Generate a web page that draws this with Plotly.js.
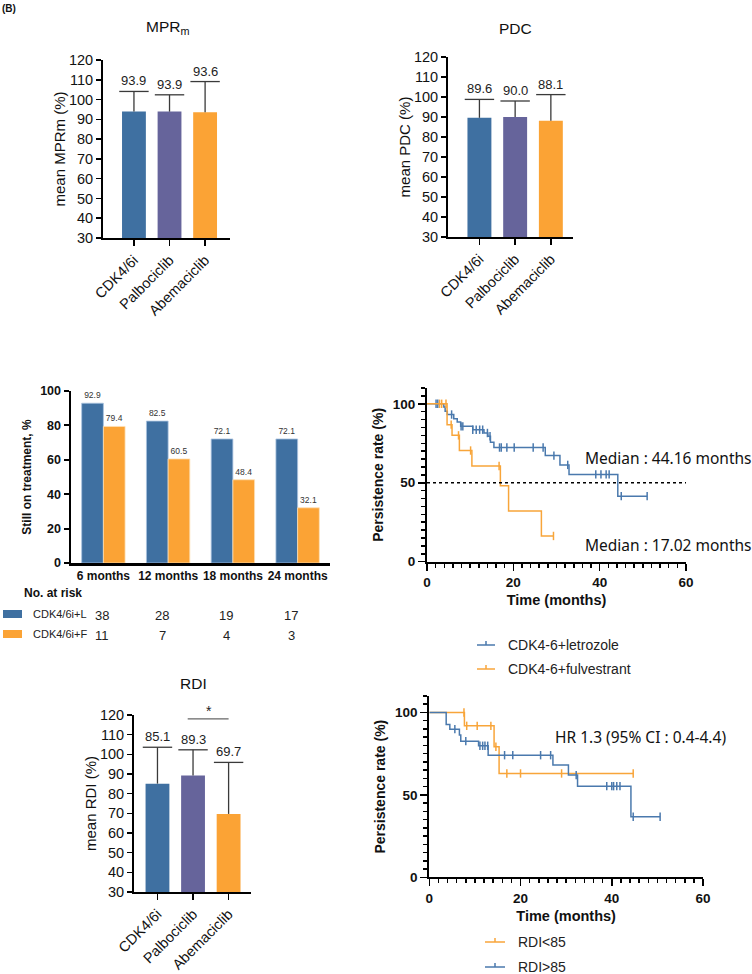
<!DOCTYPE html>
<html><head><meta charset="utf-8">
<script src="https://cdn.plot.ly/plotly-3.0.1.min.js"></script>
<style>html,body{margin:0;padding:0;background:#fff;}#chart{width:752px;height:974px;}</style>
</head><body><div id="chart"></div>
<script>
// ---------- data ----------
const drugs = ['CDK4/6i', 'Palbociclib', 'Abemaciclib'];
const mprMean = [93.9, 93.9, 93.6];
const mprSD = [10.2, 8.5, 15.5];
const pdcMean = [89.6, 90.0, 88.1];
const pdcSD = [9.2, 8.0, 13.1];
const rdiMean = [85.1, 89.3, 69.7];
const rdiSD = [18.5, 13.0, 26.2];

const timepoints = ['6 months', '12 months', '18 months', '24 months'];
const stillL = [92.9, 82.5, 72.1, 72.1];
const stillF = [79.4, 60.5, 48.4, 32.1];
const riskL = [38, 28, 19, 17];
const riskF = [11, 7, 4, 3];

// Kaplan-Meier: CDK4-6+letrozole vs CDK4-6+fulvestrant
const letT = [0, 3.9, 4.2, 4.7, 6.2, 7.0, 7.8, 10.6, 13.2, 14.1, 14.7, 15.5, 27.4, 30.8, 32.9, 44.2, 51.0];
const letS = [100, 97.9, 95.3, 93.2, 90.6, 88.5, 85.7, 83.6, 81.5, 79.4, 75.7, 72.3, 67.2, 61.3, 55.3, 41.5, 41.5];
const letCens = [2.1, 2.5, 5.7, 7.9, 8.3, 10.6, 11.4, 12.2, 12.9, 14.0, 14.6, 16.8, 17.2, 18.5, 20.2, 24.6, 26.9, 29.4, 32.6, 39.1, 40.3, 41.5, 42.2, 45.0, 51.0];
const fulT = [0, 4.65, 5.8, 7.5, 10.4, 17.0, 18.9, 26.5, 29.3];
const fulS = [100, 86.8, 80.0, 70.4, 60.6, 48.1, 32.1, 16.3, 16.3];
const fulCens = [2.9, 3.4, 4.4, 5.6, 7.3, 10.1, 16.7, 29.3];

// Kaplan-Meier: RDI<85 vs RDI>85
const lowT = [0, 7.7, 14.2, 15.3, 44.7];
const lowS = [100, 91.9, 79.2, 63.0, 63.0];
const lowCens = [7.6, 8.2, 10.5, 13.5, 14.6, 17.0, 20.0, 29.0, 44.7];
const highT = [0, 3.7, 4.5, 6.6, 6.9, 10.8, 12.9, 27.1, 30.5, 32.5, 44.2, 50.6];
const highS = [100, 92.7, 89.9, 86.3, 82.6, 79.8, 74.1, 68.1, 62.0, 55.3, 36.7, 36.7];
const highCens = [5.6, 8.0, 11.1, 11.7, 12.2, 12.8, 16.5, 18.3, 24.4, 26.6, 32.2, 38.9, 40.0, 40.4, 41.1, 41.8, 44.7, 50.6];

// ---------- styling ----------
const BLUE = '#3f70a1', PURPLE = '#66649b', ORANGE = '#fba335';
const KMBLUE = '#4a79ad', KMORANGE = '#f8a53a';
const FONT = 'Liberation Sans, Arial, sans-serif';
const W = 752, H = 974;
const px = p => p / W;
const py = p => 1 - p / H;

const traces = [];
const annotations = [];
const shapes = [];

function note(x, y, text, font, xanchor) {
  annotations.push({xref: 'paper', yref: 'paper', x: px(x), y: py(y), text: text, showarrow: false,
    xanchor: xanchor || 'center', yanchor: 'middle', font: font});
}

function barPanel(means, sds, ax) {
  traces.push({type: 'bar', x: drugs, y: means, xaxis: 'x' + ax, yaxis: 'y' + ax,
    marker: {color: [BLUE, PURPLE, ORANGE], line: {width: 0}}, showlegend: false, hoverinfo: 'skip'});
  const ex = [], ey = [];
  means.forEach((m, i) => { ex.push(drugs[i], drugs[i], null); ey.push(m, m + sds[i], null); });
  traces.push({type: 'scatter', mode: 'lines', x: ex, y: ey, xaxis: 'x' + ax, yaxis: 'y' + ax,
    line: {color: '#3a3a3a', width: 1.3}, showlegend: false, hoverinfo: 'skip'});
  traces.push({type: 'scatter', mode: 'markers', x: drugs, y: means.map((m, i) => m + sds[i]),
    xaxis: 'x' + ax, yaxis: 'y' + ax, cliponaxis: false,
    marker: {symbol: 'line-ew', size: 21, line: {color: '#3a3a3a', width: 1.3}},
    showlegend: false, hoverinfo: 'skip'});
  means.forEach((m, i) => annotations.push({xref: 'x' + ax, yref: 'y' + ax, x: drugs[i], y: m + sds[i],
    text: m.toFixed(1), showarrow: false, xanchor: 'center', yanchor: 'bottom', yshift: 1, font: {size: 13, color: '#222'}}));
}
barPanel(mprMean, mprSD, '');
barPanel(pdcMean, pdcSD, '2');
barPanel(rdiMean, rdiSD, '3');

// grouped bars
traces.push({type: 'bar', x: timepoints, y: stillL, name: 'CDK4/6i+L', xaxis: 'x4', yaxis: 'y4',
  marker: {color: BLUE, line: {color: '#a9c3df', width: 0.8}}, text: stillL.map(v => v.toFixed(1)),
  textposition: 'outside', textfont: {size: 8.5, color: '#333'}, cliponaxis: false, constraintext: 'none',
  showlegend: false, hoverinfo: 'skip'});
traces.push({type: 'bar', x: timepoints, y: stillF, name: 'CDK4/6i+F', xaxis: 'x4', yaxis: 'y4',
  marker: {color: ORANGE, line: {color: '#fde0b5', width: 0.8}}, text: stillF.map(v => v.toFixed(1)),
  textposition: 'outside', textfont: {size: 8.5, color: '#333'}, cliponaxis: false, constraintext: 'none',
  showlegend: false, hoverinfo: 'skip'});

function stepVal(T, S, t) { let v = S[0]; for (let i = 0; i < T.length; i++) { if (T[i] <= t) v = S[i]; } return v; }
function kmCurve(T, S, cens, color, ax) {
  traces.push({type: 'scatter', mode: 'lines', x: T, y: S, xaxis: 'x' + ax, yaxis: 'y' + ax,
    line: {shape: 'hv', color: color, width: 1.5}, showlegend: false, hoverinfo: 'skip'});
  traces.push({type: 'scatter', mode: 'markers', x: cens, y: cens.map(c => stepVal(T, S, c)),
    xaxis: 'x' + ax, yaxis: 'y' + ax, cliponaxis: false,
    marker: {symbol: 'line-ns', size: 6, line: {color: color, width: 1.5}}, showlegend: false, hoverinfo: 'skip'});
}
kmCurve(letT, letS, letCens, KMBLUE, '5');
kmCurve(fulT, fulS, fulCens, KMORANGE, '5');
kmCurve(lowT, lowS, lowCens, KMORANGE, '6');
kmCurve(highT, highS, highCens, KMBLUE, '6');

// ---------- axes ----------
const baseLine = {showline: true, linecolor: '#000', linewidth: 2, showgrid: false, zeroline: false,
  ticks: 'outside', tickcolor: '#000', tickwidth: 1.5, fixedrange: true};
function barX(dom, anchor, range) {
  return Object.assign({}, baseLine, {domain: [px(dom[0]), px(dom[1])], anchor: anchor, type: 'category',
    range: range, ticklen: 6, tickangle: -45, tickfont: {size: 14.5, color: '#111'}});
}
function barY(dom, anchor, title) {
  return Object.assign({}, baseLine, {domain: [py(dom[1]), py(dom[0])], anchor: anchor, range: [30, 120],
    dtick: 10, tick0: 0, ticklen: 5, tickfont: {size: 14.5, color: '#111'},
    title: {text: title, font: {size: 15, color: '#111'}, standoff: 0}});
}
const kmFont = {size: 13.5, color: '#111', weight: 'bold'};
function kmX(dom, anchor) {
  return Object.assign({}, baseLine, {domain: [px(dom[0]), px(dom[1])], anchor: anchor, range: [0, 60],
    dtick: 20, tick0: 0, ticklen: 7, tickfont: kmFont,
    minor: {dtick: 2, tick0: 0, ticks: 'outside', ticklen: 4, tickwidth: 1.5, tickcolor: '#000'},
    title: {text: 'Time (months)', font: {size: 14.5, color: '#111', weight: 'bold'}, standoff: 6}});
}
function kmY(dom, anchor) {
  return Object.assign({}, baseLine, {domain: [py(dom[1]), py(dom[0])], anchor: anchor, range: [0, 110],
    dtick: 50, tick0: 0, ticklen: 7, tickfont: kmFont,
    minor: {dtick: 5, tick0: 0, ticks: 'outside', ticklen: 4, tickwidth: 1.5, tickcolor: '#000'},
    title: {text: 'Persistence rate (%)', font: {size: 14, color: '#111', weight: 'bold'}, standoff: 6}});
}

const layout = {
  width: W, height: H, margin: {l: 0, r: 0, t: 0, b: 0}, paper_bgcolor: '#fff', plot_bgcolor: 'rgba(0,0,0,0)',
  font: {family: FONT, color: '#111'}, barmode: 'group', bargap: 0.33, bargroupgap: 0, showlegend: false,
  xaxis: barX([103, 230], 'y', [-0.87, 2.7]),
  yaxis: barY([60, 238], 'x', 'mean MPRm (%)'),
  xaxis2: barX([448, 573], 'y2', [-0.88, 2.62]),
  yaxis2: barY([57, 237], 'x2', 'mean PDC (%)'),
  xaxis3: barX([134, 251], 'y3', [-0.66, 2.63]),
  yaxis3: barY([715, 892], 'x3', 'mean RDI (%)'),
  xaxis4: Object.assign({}, baseLine, {domain: [px(71), px(330)], anchor: 'y4', type: 'category', range: [-0.5, 3.5],
    ticks: '', tickangle: 0, linewidth: 2.5, tickfont: {size: 12, color: '#111', weight: 'bold'}}),
  yaxis4: Object.assign({}, baseLine, {domain: [py(563), py(391)], anchor: 'x4', range: [0, 100], dtick: 20,
    linewidth: 2.5, ticklen: 5, tickwidth: 2, tickfont: {size: 12.5, color: '#111', weight: 'bold'},
    title: {text: 'Still on treatment, %', font: {size: 12, color: '#111', weight: 'bold'}, standoff: 6}}),
  xaxis5: kmX([427, 686], 'y5'),
  yaxis5: kmY([388, 561.7], 'x5'),
  xaxis6: kmX([429.3, 703], 'y6'),
  yaxis6: kmY([696, 877.3], 'x6'),
  annotations: annotations,
  shapes: shapes
};

// titles
note(168, 28, 'MPR<sub>m</sub>', {size: 15.5, color: '#111'});
note(515, 29, 'PDC', {size: 15.5, color: '#111'});
note(193, 683, 'RDI', {size: 15.5, color: '#111'});
note(0, 8, '<b>(B)</b>', {size: 10, color: '#111'}, 'left');

// significance bracket in RDI panel
shapes.push({type: 'line', xref: 'x3', yref: 'y3', x0: 0.85, x1: 2.0, y0: 118, y1: 118, line: {color: '#666', width: 1.3}});
annotations.push({xref: 'x3', yref: 'y3', x: 1.45, y: 118, text: '*', showarrow: false, xanchor: 'center', yanchor: 'bottom', yshift: -2,
  font: {size: 14, color: '#222'}});

// risk table
note(22, 593, '<b>No. at risk</b>', {size: 12, color: '#111'}, 'left');
const riskRows = [{label: 'CDK4/6i+L', vals: riskL, color: BLUE, y: 614}, {label: 'CDK4/6i+F', vals: riskF, color: ORANGE, y: 634}];
const riskX = [102, 162, 226, 291];
riskRows.forEach(r => {
  shapes.push({type: 'rect', xref: 'paper', yref: 'paper', x0: px(3), x1: px(22), y0: py(r.y - 4), y1: py(r.y + 4),
    fillcolor: r.color, line: {width: 0}});
  note(31, r.y, r.label, {size: 11, color: '#222'}, 'left');
  r.vals.forEach((v, i) => note(riskX[i], r.y + 1, String(v), {size: 13, color: '#222'}));
});

// KM texts
const NOTE = {size: 15.5, color: '#111', family: 'Noto Sans, Open Sans, sans-serif'};
note(583, 458, 'Median : 44.16 months', NOTE, 'left');
note(583, 545, 'Median : 17.02 months', NOTE, 'left');
note(553, 737, 'HR 1.3 (95% CI : 0.4-4.4)', NOTE, 'left');
shapes.push({type: 'line', xref: 'x5', yref: 'y5', x0: 0, x1: 60, y0: 50, y1: 50, line: {color: '#000', width: 1.5, dash: 'dot'}});

// KM legends
function kmLegend(x0, x1, y, color, label) {
  shapes.push({type: 'line', xref: 'paper', yref: 'paper', x0: px(x0), x1: px(x1), y0: py(y), y1: py(y), line: {color: color, width: 1.5}});
  shapes.push({type: 'line', xref: 'paper', yref: 'paper', x0: px((x0 + x1) / 2), x1: px((x0 + x1) / 2), y0: py(y - 4), y1: py(y),
    line: {color: color, width: 1.5}});
  note(x1 + 11, y, label, {size: 14, color: '#222'}, 'left');
}
kmLegend(477, 495, 645, KMBLUE, 'CDK4-6+letrozole');
kmLegend(477, 495, 669, KMORANGE, 'CDK4-6+fulvestrant');
kmLegend(485, 505, 942, KMORANGE, 'RDI<85');
kmLegend(485, 505, 967, KMBLUE, 'RDI>85');

Plotly.newPlot('chart', traces, layout, {staticPlot: true, displayModeBar: false});
</script></body></html>
